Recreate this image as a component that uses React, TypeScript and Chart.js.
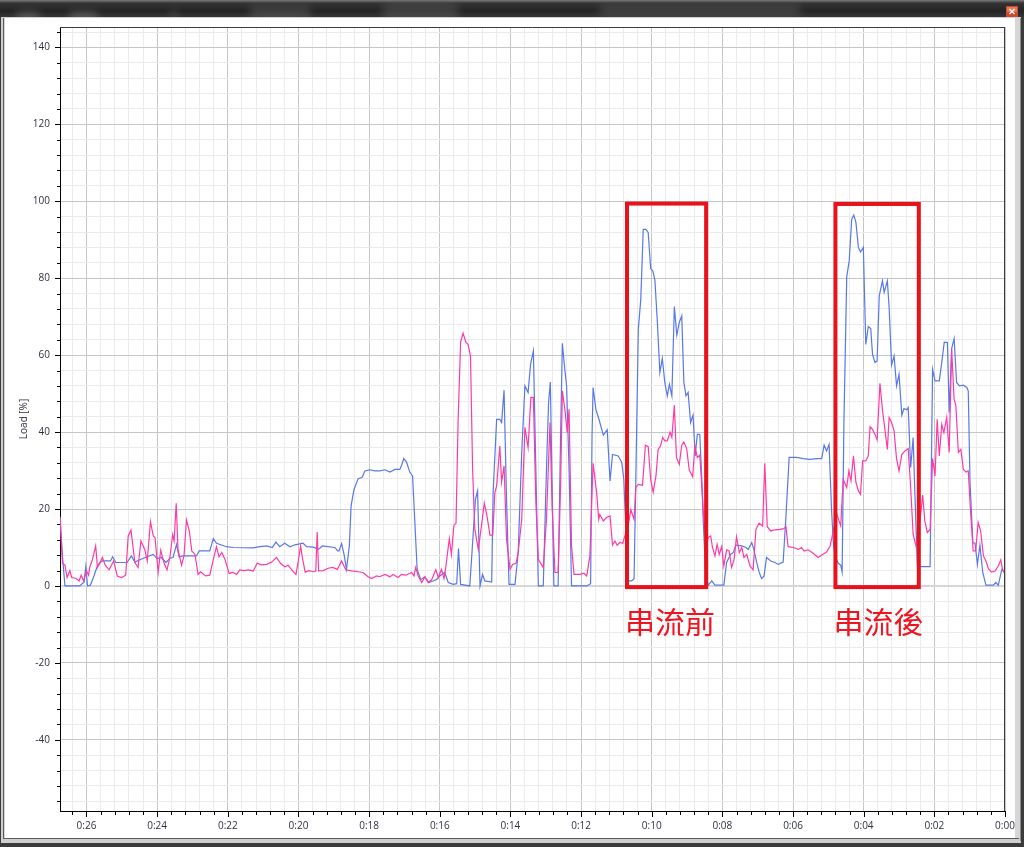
import { useEffect, useRef } from 'react';
import { Chart, registerables } from 'chart.js';

Chart.register(...registerables);

// ---- data (minutes before now, load %) ----
const blueTimes = [
  26.75, 26.68, 26.61, 26.19, 26.11, 26.07, 26.02, 25.97, 25.89, 25.79,
  25.70, 25.62, 25.55, 25.32, 25.26, 25.17, 24.85, 24.73, 24.63, 24.49,
  24.28, 24.11, 24.00, 23.88, 23.75, 23.64, 23.55, 23.45, 23.38, 23.26,
  22.89, 22.81, 22.51, 22.41, 22.32, 22.04, 21.85, 21.28, 21.09, 20.90,
  20.74, 20.64, 20.53, 20.39, 20.24, 20.10, 19.87, 19.77, 19.58, 19.44,
  19.32, 18.97, 18.89, 18.85, 18.78, 18.71, 18.64, 18.56, 18.51, 18.43,
  18.31, 18.20, 18.12, 17.98, 17.84, 17.70, 17.55, 17.41, 17.27, 17.13,
  17.07, 17.02, 16.94, 16.85, 16.77, 16.70, 16.64, 16.54, 16.42, 16.31,
  16.19, 16.09, 16.00, 15.86, 15.76, 15.62, 15.52, 15.47, 15.41, 15.15,
  14.99, 14.93, 14.86, 14.79, 14.72, 14.53, 14.49, 14.39, 14.30, 14.25,
  14.18, 14.11, 14.04, 13.87, 13.78, 13.68, 13.59, 13.50, 13.43, 13.35,
  13.28, 13.21, 13.07, 12.98, 12.92, 12.87, 12.82, 12.77, 12.65, 12.58,
  12.53, 12.48, 12.41, 12.34, 12.27, 11.84, 11.73, 11.69, 11.66, 11.58,
  11.49, 11.37, 11.26, 11.18, 11.11, 10.95, 10.85, 10.79, 10.71, 10.67,
  10.57, 10.50, 10.45, 10.38, 10.31, 10.24, 10.17, 10.10, 10.03, 9.97,
  9.91, 9.84, 9.77, 9.70, 9.63, 9.56, 9.50, 9.43, 9.36, 9.29,
  9.22, 9.15, 9.09, 9.03, 8.97, 8.90, 8.83, 8.77, 8.71, 8.64,
  8.59, 8.54, 8.47, 8.40, 8.30, 8.21, 7.96, 7.88, 7.77, 7.69,
  7.62, 7.45, 7.33, 7.27, 7.17, 7.11, 7.03, 6.96, 6.89, 6.82,
  6.75, 6.63, 6.51, 6.42, 6.28, 6.20, 6.11, 5.90, 5.71, 5.52,
  5.33, 5.19, 5.12, 5.05, 4.98, 4.91, 4.86, 4.81, 4.72, 4.65,
  4.61, 4.56, 4.48, 4.41, 4.34, 4.28, 4.22, 4.15, 4.09, 4.01,
  3.94, 3.87, 3.80, 3.75, 3.68, 3.62, 3.56, 3.47, 3.42, 3.33,
  3.28, 3.21, 3.14, 3.07, 3.00, 2.92, 2.86, 2.78, 2.74, 2.67,
  2.60, 2.55, 2.48, 2.41, 2.12, 2.05, 1.98, 1.86, 1.79, 1.72,
  1.63, 1.58, 1.51, 1.44, 1.37, 1.29, 1.18, 1.08, 1.04, 0.99,
  0.91, 0.85, 0.78, 0.71, 0.63, 0.54, 0.33, 0.26, 0.19, 0.09,
  0.03,
];
const blueLoads = [
  18, 7.8, 0, 0, 0.7, 0.9, 5, 0, 0.2, 2.6,
  5, 6.1, 6.5, 6.5, 7.6, 6.1, 6.1, 7.8, 6.2, 6.8,
  7.6, 8.2, 7.1, 7.4, 6.1, 7.2, 7.4, 10.8, 7.6, 7.8,
  7.8, 9.1, 9.1, 12.3, 11.1, 10.2, 10, 9.9, 10.2, 10.4,
  10, 11.4, 10.2, 11.1, 10.2, 10.7, 11.1, 10.2, 10.1, 9.5,
  10.4, 10, 9.1, 9.1, 11, 8.2, 4.3, 10.4, 20.8, 25,
  27.9, 28.2, 29.9, 30.2, 29.9, 29.9, 30.2, 29.6, 30.3, 30.3,
  31.6, 33.1, 32.2, 29.6, 28.6, 15.6, 4.3, 1.7, 2.3, 0.9,
  1.3, 1.7, 2.6, 3.5, 0.9, 0.4, 0.6, 9.7, 0.4, 0,
  22.5, 24.7, 0, 3, 1.3, 1, 24.3, 43.3, 43.3, 42.5,
  50.9, 22.5, 0.4, 0.4, 8.7, 34.7, 52, 50.3, 57.6, 61.1,
  30.3, 0, 0, 30.3, 47.7, 53, 26, 0, 0, 39,
  63.1, 58.1, 52, 30.3, 0, 0, 0.6, 39, 51.6, 45.9,
  43.2, 39.2, 40.6, 27.3, 34.2, 33.8, 32.2, 27.7, 9.5, 1.3,
  1.3, 1.9, 27.7, 66.7, 74.5, 92.7, 92.7, 91.9, 82.5, 81.9,
  79.5, 68.5, 55.5, 59.1, 52.9, 49.4, 52.4, 49.4, 72.6, 65.2,
  68.5, 70.2, 52.9, 49.4, 50.3, 42.5, 44.4, 33.8, 39.4, 39.4,
  29.5, 16.5, 2.6, 0.2, 1.3, 0.2, 0.2, 6.1, 8.2, 8.7,
  10.6, 10.4, 10, 9.5, 11.3, 9.5, 6.2, 3.6, 1.9, 2.6,
  7.4, 6.5, 6.1, 5.6, 6.2, 18.2, 33.4, 33.4, 33.1, 32.9,
  33.1, 33.1, 36.6, 35.1, 36.8, 19.9, 11.3, 7.8, 5.9, 5.4,
  3.6, 42.5, 80.4, 84.5, 95.3, 96.4, 94.5, 88, 86.8, 88,
  62.8, 67.4, 66.9, 60.2, 58.1, 58.5, 75.4, 79.3, 76.3, 79.3,
  72.4, 57.4, 59.8, 52, 55, 44.4, 46.1, 45.8, 46.4, 30.8,
  38.6, 23.8, 5.2, 5, 5, 56.3, 53.3, 53.3, 58.1, 63.4,
  63.3, 45.1, 61.7, 64.3, 52.9, 52, 52.2, 51.6, 50.7, 26.9,
  11.3, 11.1, 5.6, 10.6, 3.5, 0.2, 0.2, 0.9, 0.2, 4.3,
  3.9,
];

const pinkTimes = [
  26.75, 26.68, 26.61, 26.55, 26.47, 26.42, 26.30, 26.21, 26.15, 26.08,
  26.00, 25.94, 25.91, 25.83, 25.74, 25.69, 25.62, 25.55, 25.47, 25.36,
  25.23, 25.13, 25.01, 24.89, 24.82, 24.74, 24.63, 24.54, 24.46, 24.35,
  24.28, 24.19, 24.11, 24.06, 23.97, 23.90, 23.81, 23.72, 23.64, 23.56,
  23.52, 23.46, 23.41, 23.31, 23.24, 23.17, 23.09, 23.02, 22.93, 22.84,
  22.77, 22.63, 22.51, 22.41, 22.32, 22.25, 22.17, 22.08, 21.96, 21.87,
  21.75, 21.66, 21.55, 21.42, 21.28, 21.17, 21.05, 20.90, 20.76, 20.62,
  20.51, 20.39, 20.29, 20.17, 20.07, 20.01, 19.94, 19.88, 19.81, 19.70,
  19.58, 19.51, 19.47, 19.43, 19.30, 19.16, 19.03, 18.90, 18.78, 18.66,
  18.50, 18.31, 18.17, 18.03, 17.93, 17.79, 17.70, 17.55, 17.41, 17.32,
  17.18, 17.08, 16.96, 16.80, 16.73, 16.68, 16.61, 16.51, 16.42, 16.33,
  16.23, 16.11, 16.04, 15.95, 15.88, 15.83, 15.73, 15.67, 15.60, 15.54,
  15.48, 15.41, 15.34, 15.26, 15.20, 15.13, 15.07, 15.01, 14.91, 14.82,
  14.74, 14.67, 14.58, 14.50, 14.44, 14.39, 14.30, 14.25, 14.18, 14.11,
  14.01, 13.94, 13.84, 13.78, 13.68, 13.59, 13.50, 13.42, 13.35, 13.28,
  13.21, 13.07, 12.98, 12.88, 12.82, 12.74, 12.65, 12.58, 12.53, 12.46,
  12.39, 12.34, 12.27, 12.20, 12.03, 11.92, 11.84, 11.75, 11.66, 11.56,
  11.50, 11.47, 11.37, 11.28, 11.18, 11.11, 11.04, 10.98, 10.90, 10.82,
  10.76, 10.67, 10.59, 10.50, 10.45, 10.38, 10.26, 10.18, 10.10, 10.03,
  9.96, 9.88, 9.82, 9.75, 9.69, 9.63, 9.56, 9.48, 9.43, 9.36,
  9.30, 9.22, 9.15, 9.09, 9.01, 8.94, 8.84, 8.78, 8.71, 8.64,
  8.59, 8.52, 8.45, 8.40, 8.33, 8.28, 8.21, 8.15, 8.09, 8.02,
  7.96, 7.88, 7.81, 7.74, 7.67, 7.60, 7.52, 7.45, 7.39, 7.31,
  7.22, 7.13, 7.05, 6.96, 6.86, 6.80, 6.73, 6.63, 6.51, 6.37,
  6.26, 6.20, 6.14, 5.99, 5.85, 5.76, 5.69, 5.57, 5.43, 5.29,
  5.16, 5.05, 4.95, 4.88, 4.76, 4.65, 4.58, 4.48, 4.42, 4.36,
  4.29, 4.22, 4.15, 4.09, 4.03, 3.94, 3.87, 3.82, 3.75, 3.68,
  3.62, 3.54, 3.47, 3.40, 3.33, 3.28, 3.21, 3.14, 3.07, 3.00,
  2.92, 2.83, 2.74, 2.67, 2.60, 2.52, 2.43, 2.33, 2.27, 2.20,
  2.12, 2.05, 1.98, 1.92, 1.86, 1.79, 1.73, 1.65, 1.58, 1.51,
  1.44, 1.39, 1.32, 1.25, 1.18, 1.10, 1.04, 0.97, 0.90, 0.83,
  0.76, 0.69, 0.61, 0.54, 0.47, 0.38, 0.28, 0.19, 0.12, 0.07,
  0.03,
];
const pinkLoads = [
  18, 5.9, 5.4, 2.2, 4, 2.2, 2, 1.3, 2.8, 1.3,
  3.9, 2.8, 4.8, 6.9, 10.4, 4.8, 5.9, 7.4, 5.4, 4.2,
  6.5, 2.6, 2.2, 2.8, 13, 14.5, 6.1, 4.8, 11.7, 9.5,
  6.5, 16.7, 13, 12.6, 3.6, 9.3, 6.1, 4.2, 7.4, 13.3,
  11.7, 21.5, 9.5, 5.4, 7.8, 17.1, 14.3, 9.1, 8.2, 3,
  3.7, 2.6, 2.8, 6.9, 10.2, 7.6, 8.7, 6.9, 3.2, 3.6,
  3, 4.2, 4, 4.2, 3.9, 5.9, 5.5, 5.6, 6.2, 7.4,
  5.9, 5, 5.4, 3.9, 3, 6.2, 10.4, 6.9, 3.6, 4,
  3.7, 3.9, 14, 3.9, 4, 4.6, 4.8, 4.3, 6.5, 4.2,
  3.9, 3.7, 3.5, 2.4, 1.9, 2.6, 2.4, 3, 2.4, 3,
  2.2, 3, 2.8, 3.5, 2.6, 4.8, 2.6, 0.9, 2.4, 0.9,
  1.6, 4.2, 2.2, 4.3, 1.9, 4.8, 12.3, 8.2, 15.8, 16.3,
  43.3, 63.4, 65.7, 63.3, 62.8, 59.8, 30.3, 14.9, 9.5, 15.6,
  21.5, 18.6, 13.2, 13.2, 24.3, 26, 36.4, 27, 31.2, 12.1,
  4.3, 5.6, 5.9, 8.7, 17.3, 41.2, 36, 49, 49, 21.7,
  6.9, 4.8, 17.3, 42.5, 20.8, 3.5, 3.5, 26, 50.7, 45.9,
  39.9, 45.9, 10.4, 3, 3, 3.3, 2.6, 7.8, 31.9, 24.3,
  17.3, 18.6, 16.9, 17.8, 18.2, 10.6, 11.7, 10.6, 11.3, 11.1,
  13, 15.6, 19.8, 17.3, 25.6, 26.4, 26.2, 36.6, 36.2, 27.7,
  24.4, 28.6, 35.5, 36.4, 38.6, 37.7, 37.7, 40, 38.6, 47,
  33.4, 31.6, 36.6, 37.4, 35.7, 30.2, 28.4, 36.4, 33.4, 34,
  26.9, 16.5, 11.3, 12.6, 13, 10, 7.8, 10.8, 8.2, 10.2,
  5.2, 9.4, 9.1, 4.8, 6.8, 12.8, 8.7, 10, 7.4, 8.2,
  5.2, 4.2, 14.7, 16.3, 15.6, 31.9, 15.4, 14.3, 14.6, 14.7,
  14.9, 15.4, 10.2, 10, 9.5, 10, 9.1, 9.4, 8.5, 7.4,
  8.2, 8.8, 10.4, 13.4, 18.6, 15.6, 27.7, 25.6, 29.9, 27.3,
  33.8, 26.9, 24.7, 23.8, 32.5, 32.5, 33.8, 41.4, 40.7, 39.4,
  38, 52.7, 45.9, 40.7, 35.5, 43.8, 42.5, 40.3, 33.1, 29.9,
  34.2, 35.1, 35.7, 25.6, 13.4, 10.4, 15, 23.6, 16.9, 13.9,
  14.7, 33.1, 28.6, 43.3, 33.8, 42, 39.9, 43.8, 34.7, 61.5,
  48.5, 46.8, 34.7, 35.5, 30.3, 29.6, 29.9, 18.6, 9.1, 9.1,
  16.5, 14.3, 7.8, 6.5, 4.5, 3.6, 3.9, 5.2, 6.8, 4.3,
  3.5,
];

// ---- axes ----
const xRange = [0, 26.75];
const yRange = [-58.5, 145.3];
const xLabelEvery = 2; // minutes
const xMinorStep = 0.4;
const yLabelEvery = 20;
const yMinorStep = 4;
const yTitle = 'Load [%]';

// ---- highlighted windows (data units) ----
const highlightLabels = ['串流前', '串流後'];
const highlightFrom = [10.7, 4.8];
const highlightTo = [8.46, 2.44];
const highlightTop = [99.4, 99.3];
const highlightBottom = [-0.3, -0.3];

const MAJOR = '#c6c6c6';
const MINOR = '#ebebeb';
const FONT = '"Open Sans", "DejaVu Sans", sans-serif';

const near = (a: number, b: number) => Math.abs(a - b) < 1e-6;
const isMajorX = (v: number) => near(v / xLabelEvery, Math.round(v / xLabelEvery));
const isMajorY = (v: number) => near(v / yLabelEvery, Math.round(v / yLabelEvery));

export default function App() {
  const ref = useRef<HTMLCanvasElement>(null);

  useEffect(() => {
    const canvas = ref.current;
    if (!canvas) return;

    const xTicks: number[] = [];
    for (let i = 0; i * xMinorStep <= xRange[1] + 1e-9; i++) xTicks.push(+(i * xMinorStep).toFixed(3));
    const yTicks: number[] = [];
    const yStart = Math.ceil(yRange[0] / yMinorStep) * yMinorStep;
    for (let v = yStart; v <= yRange[1]; v += yMinorStep) yTicks.push(v);

    const chrome = {
      id: 'chrome',
      beforeDraw(chart: any) {
        const { ctx, width: W, height: H } = chart;
        ctx.save();
        ctx.fillStyle = '#3b3b3b';
        ctx.fillRect(0, 0, W, H);
        const g = ctx.createLinearGradient(0, 0, 0, 18);
        g.addColorStop(0, '#7a7a7a');
        g.addColorStop(0.18, '#333333');
        g.addColorStop(0.6, '#242424');
        g.addColorStop(1, '#383838');
        ctx.fillStyle = g;
        ctx.fillRect(0, 0, W, 18);
        // blurred desktop behind the title bar
        ctx.save();
        ctx.beginPath();
        ctx.rect(0, 2, W, 16);
        ctx.clip();
        ctx.filter = 'blur(4px)';
        ctx.fillStyle = 'rgba(170,170,170,0.35)';
        ctx.fillRect(17, 12, 22, 10);
        ctx.fillRect(70, 12, 27, 10);
        ctx.fillRect(172, 10, 4, 10);
        ctx.fillStyle = 'rgba(160,160,160,0.22)';
        ctx.fillRect(383, 4, 75, 16);
        ctx.fillRect(250, 6, 60, 14);
        ctx.fillStyle = 'rgba(90,90,90,0.5)';
        ctx.fillRect(600, 4, 200, 14);
        ctx.restore();
        // window frame
        ctx.fillStyle = '#cfcfcf';
        ctx.fillRect(1, 17, W - 4, H - 21);
        ctx.fillStyle = '#5a5a5a';
        ctx.fillRect(3, 18, W - 8, H - 26);
        ctx.fillStyle = '#d6d6d6';
        ctx.fillRect(4, 18, W - 8, H - 27);
        ctx.fillStyle = '#ffffff';
        ctx.fillRect(5, 18, 1010, 820);
        ctx.fillStyle = '#8a8a8a';
        ctx.fillRect(1020, 18, 1, H - 24);
        // close button
        ctx.fillStyle = '#c94a30';
        ctx.fillRect(1006, 6, 12, 11);
        ctx.fillStyle = '#e8785c';
        ctx.fillRect(1007, 7, 10, 5);
        ctx.strokeStyle = '#ffffff';
        ctx.lineWidth = 1.2;
        ctx.beginPath();
        ctx.moveTo(1009.5, 9); ctx.lineTo(1014.5, 14);
        ctx.moveTo(1014.5, 9); ctx.lineTo(1009.5, 14);
        ctx.stroke();
        ctx.restore();
      },
    };

    const overlay = {
      id: 'overlay',
      afterDraw(chart: any) {
        const { ctx, chartArea: a, scales } = chart;
        const xs = scales.x;
        const ys = scales.y;
        ctx.save();
        // top/right plot frame
        ctx.strokeStyle = '#3a3a3a';
        ctx.lineWidth = 1;
        ctx.beginPath();
        ctx.moveTo(a.left, Math.round(a.top) + 0.5);
        ctx.lineTo(a.right, Math.round(a.top) + 0.5);
        ctx.moveTo(Math.round(a.right) - 0.5, a.top);
        ctx.lineTo(Math.round(a.right) - 0.5, a.bottom);
        ctx.stroke();
        // tick marks
        ctx.strokeStyle = '#000000';
        ctx.beginPath();
        const lx = Math.round(a.left);
        for (const t of ys.ticks) {
          const y = Math.round(ys.getPixelForValue(t.value)) + 0.5;
          const len = isMajorY(t.value) ? 5 : 3;
          ctx.moveTo(lx - len, y);
          ctx.lineTo(lx, y);
        }
        const by = Math.round(a.bottom);
        for (const t of xs.ticks) {
          const x = Math.round(xs.getPixelForValue(t.value)) + 0.5;
          const len = isMajorX(t.value) ? 6 : 4;
          ctx.moveTo(x, by);
          ctx.lineTo(x, by + len);
        }
        ctx.stroke();
        // highlight boxes
        ctx.strokeStyle = '#e8121c';
        ctx.lineWidth = 4;
        ctx.fillStyle = '#f01420';
        ctx.font = '30px "Noto Sans CJK TC", "Noto Sans CJK JP", sans-serif';
        ctx.textBaseline = 'middle';
        ctx.textAlign = 'left';
        highlightLabels.forEach((label, i) => {
          const x1 = xs.getPixelForValue(highlightFrom[i]);
          const x2 = xs.getPixelForValue(highlightTo[i]);
          const y1 = ys.getPixelForValue(highlightTop[i]);
          const y2 = ys.getPixelForValue(highlightBottom[i]);
          ctx.strokeRect(Math.min(x1, x2), y1, Math.abs(x2 - x1), y2 - y1);
          ctx.fillText(label, Math.min(x1, x2) - 2, y2 + 34);
        });
        ctx.restore();
      },
    };

    const chart = new Chart(canvas, {
      type: 'line',
      data: {
        datasets: [
          {
            label: 'pink',
            data: pinkTimes.map((t, i) => ({ x: t, y: pinkLoads[i] })),
            borderColor: '#ff3aa6',
            borderWidth: 1.2,
            pointRadius: 0,
            tension: 0,
            fill: false,
          },
          {
            label: 'blue',
            data: blueTimes.map((t, i) => ({ x: t, y: blueLoads[i] })),
            borderColor: '#5878e8',
            borderWidth: 1.2,
            pointRadius: 0,
            tension: 0,
            fill: false,
          },
        ],
      },
      options: {
        responsive: false,
        maintainAspectRatio: false,
        animation: false,
        events: [],
        layout: { padding: { left: 0, top: 27, right: 19, bottom: 0 } },
        plugins: { legend: { display: false }, tooltip: { enabled: false }, title: { display: false } },
        scales: {
          x: {
            type: 'linear',
            reverse: true,
            min: xRange[0],
            max: xRange[1],
            afterBuildTicks: (s: any) => { s.ticks = xTicks.map((v) => ({ value: v })); },
            afterFit: (s: any) => { s.height = 36; },
            grid: {
              drawTicks: false,
              color: (c: any) => (isMajorX(c.tick.value) ? MAJOR : MINOR),
              lineWidth: 1,
            },
            border: { display: true, color: '#000000', width: 1 },
            ticks: {
              autoSkip: false,
              maxRotation: 0,
              minRotation: 0,
              padding: 9,
              color: '#2d3040',
              font: { family: FONT, size: 10 },
              callback: (v: any) => (isMajorX(Number(v)) ? '0:' + String(Math.round(Number(v))).padStart(2, '0') : ''),
            },
          },
          y: {
            type: 'linear',
            min: yRange[0],
            max: yRange[1],
            afterBuildTicks: (s: any) => { s.ticks = yTicks.map((v) => ({ value: v })); },
            afterFit: (s: any) => { s.width = 60; },
            grid: {
              drawTicks: false,
              color: (c: any) => (near(c.tick.value, 0) ? '#d6d6d6' : isMajorY(c.tick.value) ? MAJOR : MINOR),
              lineWidth: (c: any) => (near(c.tick.value, 0) ? 2 : 1),
            },
            border: { display: true, color: '#000000', width: 1 },
            title: {
              display: true,
              text: yTitle,
              color: '#2d3040',
              font: { family: FONT, size: 10 },
              padding: { top: 18, bottom: 0 },
            },
            ticks: {
              autoSkip: false,
              padding: 10,
              color: '#2d3040',
              font: { family: FONT, size: 10 },
              callback: (v: any) => (isMajorY(Number(v)) ? String(Math.round(Number(v))) : ''),
            },
          },
        },
      } as any,
      plugins: [chrome, overlay],
    });

    return () => chart.destroy();
  }, []);

  return (
    <div style={{ position: 'fixed', left: 0, top: 0, width: 1024, height: 847 }}>
      <canvas ref={ref} width={1024} height={847} style={{ display: 'block', width: 1024, height: 847 }} />
    </div>
  );
}
